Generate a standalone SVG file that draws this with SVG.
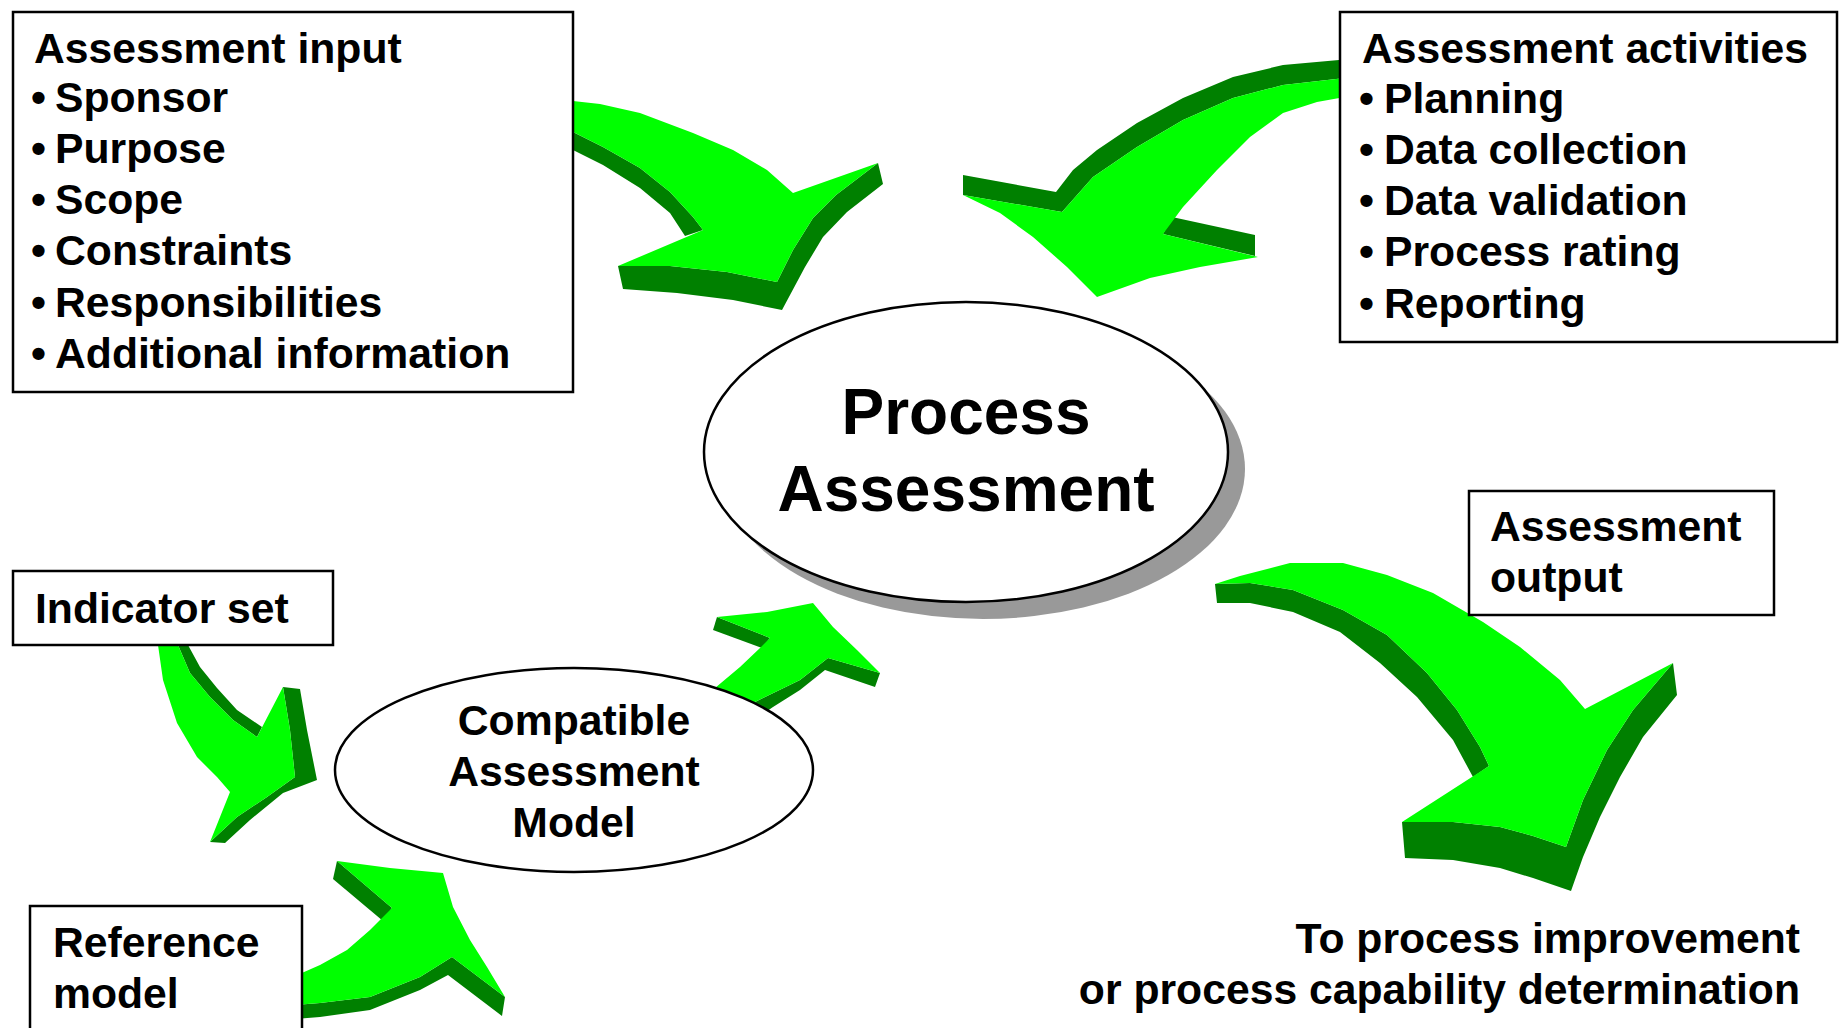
<svg xmlns="http://www.w3.org/2000/svg" width="1841" height="1028" viewBox="0 0 1841 1028">
<style>
.box{fill:#fff;stroke:#000;stroke-width:2.5}
.ell{fill:#fff;stroke:#000;stroke-width:2.5}
.t{font-family:"Liberation Sans",Arial,Helvetica,sans-serif;font-weight:bold;font-size:42.7px;fill:#000}
.big{font-size:64px}
.lg{fill:#00ff00}
.dg{fill:#008000}
</style>
<rect width="1841" height="1028" fill="#fff"/>
<g id="connectors">
  <g id="arrow-input">
    <path class="dg" d="M565,128 L573,132 L603,147 L640,168 L670,192 L693,217 L703,230 L685,236 L670,213 L640,188 L603,165 L573,150 L565,147 Z"/>
    <path class="dg" d="M618,266 L623,289 L677,293 L733,300 L782,310 L805,267 L823,237 L847,212 L883,184 L878,163 L836,195 L813,218 L793,250 L777,282 L727,272 L670,266 Z"/>
    <path class="lg" d="M565,100 L573,101 L600,104 L640,113 L693,133 L733,150 L767,170 L793,193 L878,163 L836,195 L813,218 L793,250 L777,282 L727,272 L670,266 L618,266 L703,230 L693,217 L670,192 L640,168 L603,147 L573,132 L565,128 Z"/>
  </g>
  <g id="arrow-activities">
    <path class="dg" d="M1345,60 L1339,60 L1283,65 L1233,77 L1183,98 L1137,123 L1097,150 L1073,170 L1056,192 L963,175 L963,195 L1062,212 L1093,177 L1137,147 L1183,120 L1233,98 L1283,85 L1345,78 Z"/>
    <path class="dg" d="M1172,217 L1255,235 L1255,256 L1163,234 Z"/>
    <path class="lg" d="M1345,78 L1283,85 L1233,98 L1183,120 L1137,147 L1093,177 L1062,212 L963,195 L1000,213 L1033,237 L1067,267 L1097,297 L1150,278 L1200,267 L1258,257 L1163,234 L1183,207 L1217,170 L1250,137 L1283,113 L1317,102 L1345,97 Z"/>
  </g>
  <g id="arrow-indicator">
    <path class="dg" d="M178,640 L188,640 L188,645 L200,667 L217,688 L237,710 L262,727 L257,737 L233,720 L210,697 L190,673 L178,645 Z"/>
    <path class="dg" d="M283,687 L300,689 L307,730 L317,780 L283,793 L250,820 L225,843 L210,842 L237,817 L267,797 L295,777 L290,730 Z"/>
    <path class="lg" d="M158,640 L158,645 L163,680 L177,723 L197,757 L217,777 L230,792 L210,842 L237,817 L267,797 L295,777 L290,730 L283,687 L257,737 L233,720 L210,697 L190,673 L178,645 L178,640 Z"/>
  </g>
  <g id="arrow-reference">
    <path class="dg" d="M337,861 L333,879 L383,921 L392,908 Z"/>
    <path class="dg" d="M295,1005 L320,1003 L370,997 L420,977 L452,957 L505,997 L502,1016 L448,975 L420,990 L370,1010 L320,1017 L295,1019 Z"/>
    <path class="lg" d="M295,976 L320,965 L347,950 L370,930 L392,908 L337,861 L390,868 L443,873 L453,907 L470,940 L487,967 L505,997 L452,957 L420,977 L370,997 L320,1003 L295,1005 Z"/>
  </g>
  <g id="arrow-model">
    <path class="dg" d="M717,617 L713,630 L762,648 L770,638 Z"/>
    <path class="dg" d="M755,702 L800,680 L828,658 L880,673 L875,687 L825,670 L800,690 L773,707 L760,716 Z"/>
    <path class="lg" d="M705,700 L715,688 L740,667 L760,648 L770,638 L717,617 L767,612 L813,603 L833,627 L857,650 L880,673 L828,658 L800,680 L755,702 L745,715 Z"/>
  </g>
  <g id="arrow-output">
    <path class="dg" d="M1215,584 L1250,583 L1293,590 L1343,610 L1387,635 L1427,673 L1457,710 L1480,747 L1489,766 L1473,777 L1453,740 L1417,697 L1380,663 L1340,632 L1293,612 L1250,603 L1217,603 Z"/>
    <path class="dg" d="M1402,822 L1405,858 L1453,860 L1500,868 L1533,878 L1571,891 L1583,857 L1600,817 L1620,777 L1643,737 L1677,695 L1673,663 L1633,710 L1607,750 L1583,800 L1566,847 L1533,836 L1500,827 L1453,822 Z"/>
    <path class="lg" d="M1215,584 L1240,576 L1290,563 L1343,563 L1387,575 L1433,593 L1483,622 L1520,647 L1560,680 L1585,709 L1673,663 L1633,710 L1607,750 L1583,800 L1566,847 L1533,836 L1500,827 L1453,822 L1402,822 L1489,766 L1480,747 L1457,710 L1427,673 L1387,635 L1343,610 L1293,590 L1250,583 Z"/>
  </g>
</g>
<g id="assessment-input">
  <rect class="box" x="13" y="12" width="560" height="380"/>
  <text class="t" x="34" y="63">Assessment input</text>
  <text class="t" y="112"><tspan x="31">•</tspan><tspan x="55">Sponsor</tspan></text>
  <text class="t" y="163"><tspan x="31">•</tspan><tspan x="55">Purpose</tspan></text>
  <text class="t" y="214"><tspan x="31">•</tspan><tspan x="55">Scope</tspan></text>
  <text class="t" y="265"><tspan x="31">•</tspan><tspan x="55">Constraints</tspan></text>
  <text class="t" y="317"><tspan x="31">•</tspan><tspan x="55">Responsibilities</tspan></text>
  <text class="t" y="368"><tspan x="31">•</tspan><tspan x="55">Additional information</tspan></text>
</g>
<g id="assessment-activities">
  <rect class="box" x="1340" y="12" width="497" height="330"/>
  <text class="t" x="1362" y="63">Assessment activities</text>
  <text class="t" y="113"><tspan x="1359">•</tspan><tspan x="1384">Planning</tspan></text>
  <text class="t" y="164"><tspan x="1359">•</tspan><tspan x="1384">Data collection</tspan></text>
  <text class="t" y="215"><tspan x="1359">•</tspan><tspan x="1384">Data validation</tspan></text>
  <text class="t" y="266"><tspan x="1359">•</tspan><tspan x="1384">Process rating</tspan></text>
  <text class="t" y="318"><tspan x="1359">•</tspan><tspan x="1384">Reporting</tspan></text>
</g>
<g id="process-assessment">
  <ellipse cx="983" cy="469" rx="262" ry="150" fill="#999"/>
  <ellipse class="ell" cx="966" cy="452" rx="262" ry="150"/>
  <text class="t big" x="966" y="434" text-anchor="middle">Process</text>
  <text class="t big" x="966" y="511" text-anchor="middle">Assessment</text>
</g>
<g id="indicator-set">
  <rect class="box" x="13" y="571" width="320" height="74"/>
  <text class="t" x="35" y="623">Indicator set</text>
</g>
<g id="compatible-model">
  <ellipse class="ell" cx="574" cy="770" rx="239" ry="102"/>
  <text class="t" x="574" y="735" text-anchor="middle">Compatible</text>
  <text class="t" x="574" y="786" text-anchor="middle">Assessment</text>
  <text class="t" x="574" y="837" text-anchor="middle">Model</text>
</g>
<g id="reference-model">
  <rect class="box" x="30" y="906" width="272" height="140"/>
  <text class="t" x="53" y="957">Reference</text>
  <text class="t" x="53" y="1008">model</text>
</g>
<g id="assessment-output">
  <rect class="box" x="1469" y="491" width="305" height="124"/>
  <text class="t" x="1490" y="541">Assessment</text>
  <text class="t" x="1490" y="592">output</text>
</g>
<g id="destination">
  <text class="t" x="1800" y="953" text-anchor="end">To process improvement</text>
  <text class="t" x="1800" y="1004" text-anchor="end">or process capability determination</text>
</g>
</svg>
